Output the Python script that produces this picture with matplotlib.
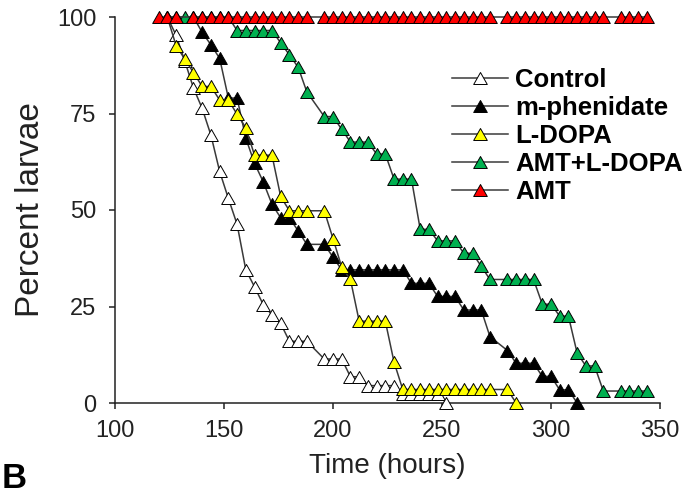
import matplotlib
matplotlib.use("Agg")
import matplotlib.pyplot as plt
from matplotlib.path import Path

plt.rcParams['font.family'] = ['Liberation Sans', 'DejaVu Sans']

# ---- data ----
ctrl_t = [124, 128, 132, 136, 140, 144, 148, 152, 156, 160, 164, 168, 172, 176, 180, 184, 188,
          196, 200, 204, 208, 212, 216, 220, 224, 228, 232, 236, 240, 244, 248, 252]
ctrl_v = [100, 95.3, 88.6, 81.6, 76.3, 69.4, 60.0, 53.0, 46.3, 34.5, 30.1, 25.5, 22.8, 20.6, 16.0, 16.0, 16.0,
          11.4, 11.4, 11.4, 6.8, 6.8, 4.5, 4.5, 4.5, 4.5, 2.3, 2.3, 2.3, 2.3, 2.3, 0]

blk_t = [136, 140, 144, 148, 152, 156, 160, 164, 168, 172, 176, 180, 184, 188, 196, 200, 204, 208,
         212, 216, 220, 224, 228, 232, 236, 240, 244, 248, 252, 256, 260, 264, 268, 272, 280, 284,
         288, 292, 296, 300, 304, 308, 312]
blk_v = [100, 96.0, 92.8, 89.3, 79.0, 79.0, 68.6, 62.1, 57.3, 51.5, 48.0, 48.0, 44.6, 41.1, 41.1, 37.8, 34.5, 34.5,
         34.5, 34.5, 34.5, 34.5, 34.5, 34.5, 31.0, 31.0, 31.0, 27.6, 27.6, 27.6, 24.1, 24.1, 24.1, 17.2, 13.6, 10.3,
         10.3, 10.3, 6.9, 6.9, 3.4, 3.4, 0]

yel_t = [124, 128, 132, 136, 140, 144, 148, 152, 156, 160, 164, 168, 172, 176, 180, 184, 188, 196, 200,
         204, 208, 212, 216, 220, 224, 228, 232, 236, 240, 244, 248, 252, 256, 260, 264, 268, 272, 280, 284]
yel_v = [100, 92.6, 89.1, 85.6, 82.0, 82.0, 78.5, 78.5, 74.8, 71.3, 64.2, 64.2, 64.2, 53.5, 49.8, 49.8, 49.8, 49.8, 42.6,
         35.2, 32.0, 21.2, 21.2, 21.2, 21.2, 10.6, 3.5, 3.5, 3.5, 3.5, 3.5, 3.5, 3.5, 3.5, 3.5, 3.5, 3.5, 3.5, 0]

grn_t = [124, 128, 132, 136, 140, 144, 148, 152, 156, 160, 164, 168, 172, 176, 180, 184, 188, 196, 200,
         204, 208, 212, 216, 220, 224, 228, 232, 236, 240, 244, 248, 252, 256, 260, 264, 268, 272, 280,
         284, 288, 292, 296, 300, 304, 308, 312, 316, 320, 324, 332, 336, 340, 344]
grn_v = [100, 100, 100, 100, 100, 100, 100, 100, 96.5, 96.5, 96.5, 96.5, 96.5, 93.3, 90.2, 87.0, 80.6, 74.2, 74.2,
         70.9, 67.6, 67.6, 67.6, 64.5, 64.5, 58.0, 58.0, 58.0, 45.0, 45.0, 42.0, 42.0, 42.0, 38.8, 38.8, 35.4, 32.0, 32.0,
         32.0, 32.0, 32.0, 25.6, 25.6, 22.5, 22.5, 12.9, 9.6, 9.6, 3.1, 3.1, 3.1, 3.1, 3.1]

red_t = [120, 124, 128, 136, 140, 144, 148, 152, 156, 160, 164, 168, 172, 176, 180, 184, 188, 196, 200,
         204, 208, 212, 216, 220, 224, 228, 232, 236, 240, 244, 248, 252, 256, 260, 264, 268, 272, 280,
         284, 288, 292, 296, 300, 304, 308, 312, 316, 320, 324, 332, 336, 340, 344]
red_v = [100] * len(red_t)

labels = ['Control', 'm-phenidate', 'L-DOPA', 'AMT+L-DOPA', 'AMT']
colors = ['white', 'black', '#FFFF00', '#00B050', '#FF0000']

x_ticks = [100, 150, 200, 250, 300, 350]
y_ticks = [0, 25, 50, 75, 100]

# ---- figure ----
fig = plt.figure(figsize=(6.89, 4.97), dpi=100)
ax = fig.add_axes([115 / 689, 1 - 403 / 497, 545 / 689, 386 / 497])

tri = Path([(0, 0.88), (-1, -0.88), (1, -0.88), (0, 0.88)],
           [Path.MOVETO, Path.LINETO, Path.LINETO, Path.CLOSEPOLY])

series = [(ctrl_t, ctrl_v), (blk_t, blk_v), (yel_t, yel_v), (grn_t, grn_v), (red_t, red_v)]
for i, ((t, v), lab, col) in enumerate(zip(series, labels, colors)):
    ax.plot(t, v, color='#3a3a3a', lw=1.1, marker=tri, ms=9.8, mfc=col, mec='black',
            mew=0.7, label=lab, clip_on=False, zorder=3 + i)

ax.set_xlim(100, 350)
ax.set_ylim(0, 100)
ax.set_xticks(x_ticks)
ax.set_yticks(y_ticks)
for s in ['top', 'right']:
    ax.spines[s].set_visible(False)
for s in ['left', 'bottom']:
    ax.spines[s].set_linewidth(1.1)
    ax.spines[s].set_color('#222222')
ax.tick_params(axis='both', direction='out', length=4.5, width=1.1, color='#222222',
               labelsize=17, labelcolor='#222222')
ax.tick_params(axis='x', pad=8)
ax.tick_params(axis='y', pad=9)

ax.set_xlabel('Time (hours)', fontsize=20, color='#222222', labelpad=8)
ax.set_ylabel('Percent larvae', fontsize=24, color='#222222', labelpad=8)

leg = ax.legend(loc='upper left', bbox_to_anchor=(452 / 689, 1 - 68 / 497),
                bbox_transform=fig.transFigure, frameon=False, borderpad=0,
                borderaxespad=0, handlelength=2.17, handletextpad=0.3,
                labelspacing=0.16, prop={'weight': 'bold', 'size': 18.5})

fig.text(0.002, 0.004, 'B', fontsize=25, fontweight='bold', va='bottom', ha='left')

fig.savefig('out.png', dpi=100)
